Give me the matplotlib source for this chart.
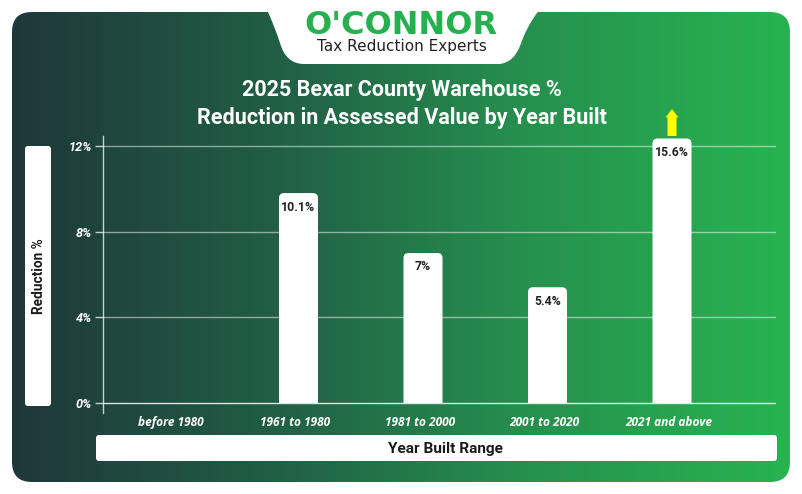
import numpy as np
import matplotlib
matplotlib.use("Agg")
import matplotlib.pyplot as plt
from matplotlib.patches import FancyBboxPatch, Rectangle, PathPatch, Polygon
from matplotlib.path import Path
from matplotlib.colors import LinearSegmentedColormap

categories = ["before 1980", "1961 to 1980", "1981 to 2000", "2001 to 2020", "2021 and above"]
values = [0, 9.8, 7, 5.4, 15.6]
value_labels = ["", "10.1%", "7%", "5.4%", "15.6%"]
y_ticks = [0, 4, 8, 12]
y_tick_labels = ["0%", "4%", "8%", "12%"]
title_text = "2025 Bexar County Warehouse %\nReduction in Assessed Value by Year Built"

W, H = 802, 494
plt.rcParams["font.family"] = ["Roboto", "DejaVu Sans"]
fig = plt.figure(figsize=(W / 100, H / 100), dpi=100, facecolor="white")

# pixel canvas
bg = fig.add_axes([0, 0, 1, 1])
bg.set_xlim(0, W); bg.set_ylim(H, 0); bg.axis("off")
cmap = LinearSegmentedColormap.from_list("g", ["#1f3739", "#215e45", "#26914e", "#28b351"])
im = bg.imshow(np.linspace(0, 1, 256)[None, :], extent=[12, 790, 482, 12], cmap=cmap, aspect="auto", zorder=1)
card = FancyBboxPatch((12, 12), 778, 470, boxstyle="round,pad=0,rounding_size=20", fc="none", ec="none", transform=bg.transData)
bg.add_patch(card)
im.set_clip_path(card)
bg.set_xlim(0, W); bg.set_ylim(H, 0)

# logo tab
verts = [(266, 10), (268, 12), (276, 30), (280, 43), (286, 64), (304, 64),
         (500, 64), (514, 62), (520, 46), (526, 28), (537, 13), (540, 10), (266, 10)]
codes = [Path.MOVETO, Path.LINETO, Path.CURVE3, Path.CURVE3, Path.CURVE3, Path.CURVE3,
         Path.LINETO, Path.CURVE3, Path.CURVE3, Path.CURVE3, Path.CURVE3, Path.LINETO, Path.CLOSEPOLY]
bg.add_patch(PathPatch(Path(verts, codes), fc="white", ec="none", zorder=2))
bg.text(400.5, 25.5, "O'CONNOR", color="#27b04f", fontsize=23, fontweight="bold", fontfamily="DejaVu Sans",
        ha="center", va="center", zorder=3)
bg.text(401.5, 47, "Tax Reduction Experts", color="#222222", fontsize=11, fontfamily="DejaVu Sans",
        ha="center", va="center", zorder=3)

# title
bg.text(401.5, 104, title_text, color="white", fontsize=15.5, fontweight="bold", ha="center", va="center",
        linespacing=1.36, zorder=3)

# pills
bg.add_patch(FancyBboxPatch((25, 146), 26, 260, boxstyle="round,pad=0,rounding_size=3", fc="white", ec="none", zorder=2))
bg.add_patch(FancyBboxPatch((96, 435), 681, 26, boxstyle="round,pad=0,rounding_size=3", fc="white", ec="none", zorder=2))
bg.text(39, 276, "Reduction %", rotation=90, color="#1a1a1a", fontsize=9.8, fontweight="bold", ha="center", va="center", zorder=3)
bg.text(445, 448.5, "Year Built Range", color="#1a1a1a", fontsize=11.1, fontweight="bold", ha="center", va="center", zorder=3)

# chart axes
left, right, top, bottom = 103, 776, 136, 413
ax = fig.add_axes([left / W, 1 - bottom / H, (right - left) / W, (bottom - top) / H])
ax.patch.set_alpha(0)
px_x = 124.5
zero_y = 402.8
px_y = (zero_y - 146) / 12
ax.set_xlim((left - 174) / px_x, (right - 174) / px_x)
ax.set_ylim((zero_y - bottom) / px_y, (zero_y - top) / px_y)
for s in ax.spines.values():
    s.set_visible(False)
ax.spines["left"].set_visible(True)
ax.spines["left"].set_color((1, 1, 1, 0.75))
ax.spines["left"].set_linewidth(1)

ax.set_yticks(y_ticks, y_tick_labels, color="white", fontsize=9.2, fontweight="bold", fontstyle="italic")
ax.tick_params(axis="y", length=6, width=1, color=(1, 1, 1, 0.75), pad=2)
x = np.arange(len(categories))
ax.set_xticks(x - 3 / px_x, categories, color="white", fontsize=8.6, fontweight="bold", fontstyle="italic", fontfamily="Open Sans")
ax.tick_params(axis="x", length=0, pad=2.5)
for g in y_ticks:
    ax.axhline(g, color="white", alpha=0.85 if g == 0 else 0.5, lw=1, zorder=1)

# bars: rounded tops, capped at the chart's top edge
cap = (zero_y - 138.5) / px_y
bar_w = 39 / px_x
shown = np.minimum(values, cap)
clip = Rectangle((-5, 0), 20, 100, transform=ax.transData)
for xi, v, lab, raw in zip(x, shown, value_labels, values):
    if v <= 0:
        continue
    p = FancyBboxPatch((xi - bar_w / 2, -1), bar_w, v + 1,
                       boxstyle=f"round,pad=0,rounding_size={5 / px_x}",
                       mutation_aspect=px_x / px_y, fc="white", ec="none", zorder=3)
    ax.add_patch(p)
    p.set_clip_path(clip)
    ax.text(xi, v - 14 / px_y, lab, ha="center", va="center", color="#222222", fontsize=8.8, fontweight="bold", zorder=4)
    if raw > cap:
        bg_x, _ = bg.transData.inverted().transform(ax.transData.transform((xi, 0)))
        bg.add_patch(Polygon([(bg_x - 4.5, 136), (bg_x + 4.5, 136), (bg_x + 4.5, 117.5), (bg_x + 6.5, 117.5),
                              (bg_x, 109), (bg_x - 6.5, 117.5), (bg_x - 4.5, 117.5)], fc="#ffff00", ec="none", zorder=5))

fig.savefig("out.png", dpi=100, facecolor="white")
